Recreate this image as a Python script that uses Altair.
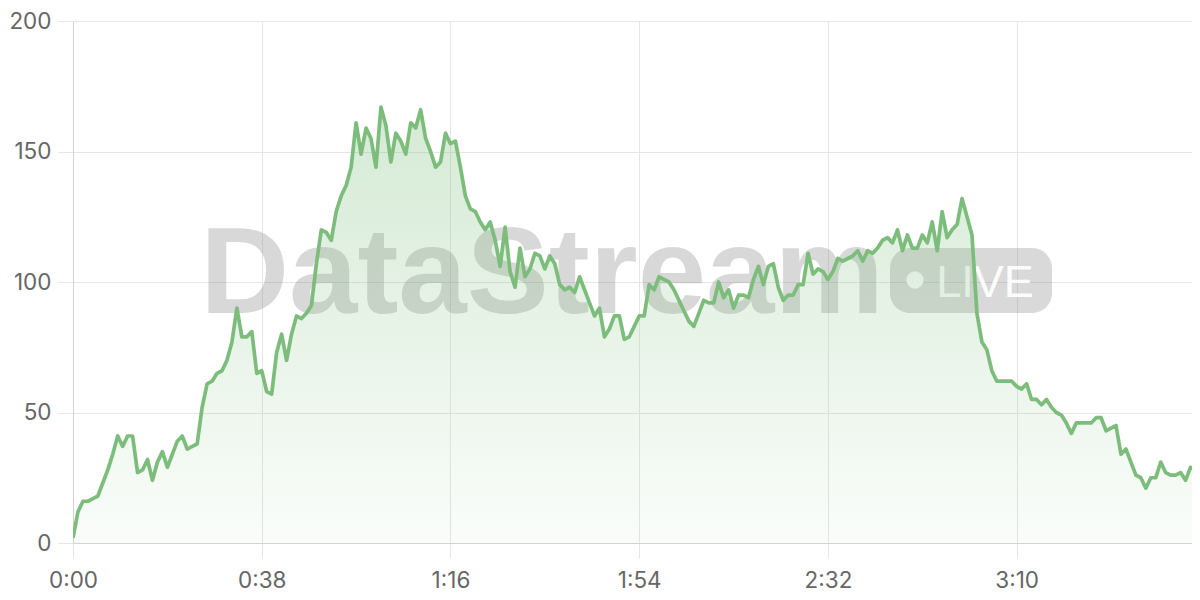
import altair as alt
import pandas as pd

# elapsed time in seconds (one sample per second)
seconds = list(range(0, 227))
values = [
    2, 12, 16, 16, 17, 18, 23, 28, 34, 41,
    37, 41, 41, 27, 28, 32, 24, 31, 35, 29,
    34, 39, 41, 36, 37, 38, 52, 61, 62, 65,
    66, 70, 77, 90, 79, 79, 81, 65, 66, 58,
    57, 73, 80, 70, 80, 87, 86, 88, 91, 107,
    120, 119, 116, 127, 133, 137, 144, 161, 149, 159,
    155, 144, 167, 160, 146, 157, 154, 149, 161, 159,
    166, 155, 150, 144, 146, 157, 153, 154, 144, 133,
    128, 127, 123, 120, 123, 116, 106, 121, 104, 98,
    113, 102, 105, 111, 110, 105, 110, 107, 99, 97,
    98, 96, 102, 97, 92, 87, 90, 79, 82, 87,
    87, 78, 79, 83, 87, 87, 99, 97, 102, 101,
    100, 97, 93, 89, 85, 83, 88, 93, 92, 92,
    100, 94, 97, 90, 95, 95, 94, 101, 106, 99,
    106, 107, 98, 93, 95, 95, 99, 99, 111, 103,
    105, 104, 101, 104, 109, 108, 109, 110, 112, 108,
    112, 111, 113, 116, 117, 115, 120, 112, 118, 113,
    113, 118, 115, 123, 112, 127, 117, 120, 122, 132,
    125, 118, 88, 77, 74, 66, 62, 62, 62, 62,
    60, 59, 61, 55, 55, 53, 55, 52, 50, 49,
    46, 42, 46, 46, 46, 46, 48, 48, 43, 44,
    45, 34, 36, 31, 26, 25, 21, 25, 25, 31,
    27, 26, 26, 27, 24, 29, 28,
]
x_ticks = [0, 38, 76, 114, 152, 190]
y_ticks = [0, 50, 100, 150, 200]
watermark_text = ["DataStream"]
badge_text = ["LIVE"]

df = pd.DataFrame({"t": seconds, "v": values})

LINE = "#7cbd7c"
GRID = "#e6e6e6"

x_enc = alt.X(
    "t:Q",
    scale=alt.Scale(domain=[0, 225.3], nice=False, zero=False),
    axis=alt.Axis(
        values=x_ticks,
        title=None,
        labelExpr="floor(datum.value/60) + ':' + (datum.value % 60 < 10 ? '0' : '') + (datum.value % 60)",
        labelPadding=11,
        labelFlush=False,
    ),
)
y_enc = alt.Y(
    "v:Q",
    scale=alt.Scale(domain=[0, 200], nice=False),
    axis=alt.Axis(values=y_ticks, title=None, labelPadding=7),
)

gradient = alt.Gradient(
    gradient="linear",
    stops=[
        alt.GradientStop(color="rgba(124,189,124,0.32)", offset=0),
        alt.GradientStop(color="rgba(124,189,124,0.04)", offset=1),
    ],
    x1=1, x2=1, y1=0, y2=1,
)

one = pd.DataFrame({"k": [0]})

wm = alt.Chart(pd.DataFrame({"label": watermark_text})).mark_text(
    font="Liberation Sans", fontWeight="bold", fontSize=123, color="#808080",
    opacity=0.3, align="center", baseline="alphabetic",
).encode(x=alt.value(469), y=alt.value(292), text="label:N")

badge = alt.Chart(one).mark_rect(
    color="#808080", opacity=0.3, cornerRadius=20,
).encode(x=alt.value(817), x2=alt.value(979), y=alt.value(227), y2=alt.value(292))

dot = alt.Chart(one).mark_circle(size=300, color="white", opacity=0.9).encode(
    x=alt.value(842), y=alt.value(259)
)

live = alt.Chart(pd.DataFrame({"label": badge_text})).mark_text(
    font="Liberation Sans", fontSize=45, color="white", opacity=0.92,
    align="center", baseline="alphabetic",
).encode(x=alt.value(912), y=alt.value(276), text="label:N")

base = alt.Chart(df)
area = base.mark_area(color=gradient, interpolate="linear", clip=True).encode(x=x_enc, y=y_enc)
line = base.mark_line(color=LINE, strokeWidth=3.7, strokeJoin="round", clip=True).encode(x=x_enc, y=y_enc)

chart = (
    alt.layer(wm, badge, dot, live, area, line)
    .properties(
        width=1119,
        height=522,
        autosize=alt.AutoSizeParams(type="none"),
        padding={"left": 65, "top": 13, "right": 0, "bottom": 49},
    )
    .configure_view(stroke=None)
    .configure_axis(
        gridColor=GRID,
        domainColor="#d2d2d2",
        tickColor=GRID,
        tickSize=15,
        labelColor="#666666",
        labelFont="Inter",
        labelFontSize=22.5,
    )
)

chart.save("out.html", embed_options={"renderer": "svg", "actions": False})
